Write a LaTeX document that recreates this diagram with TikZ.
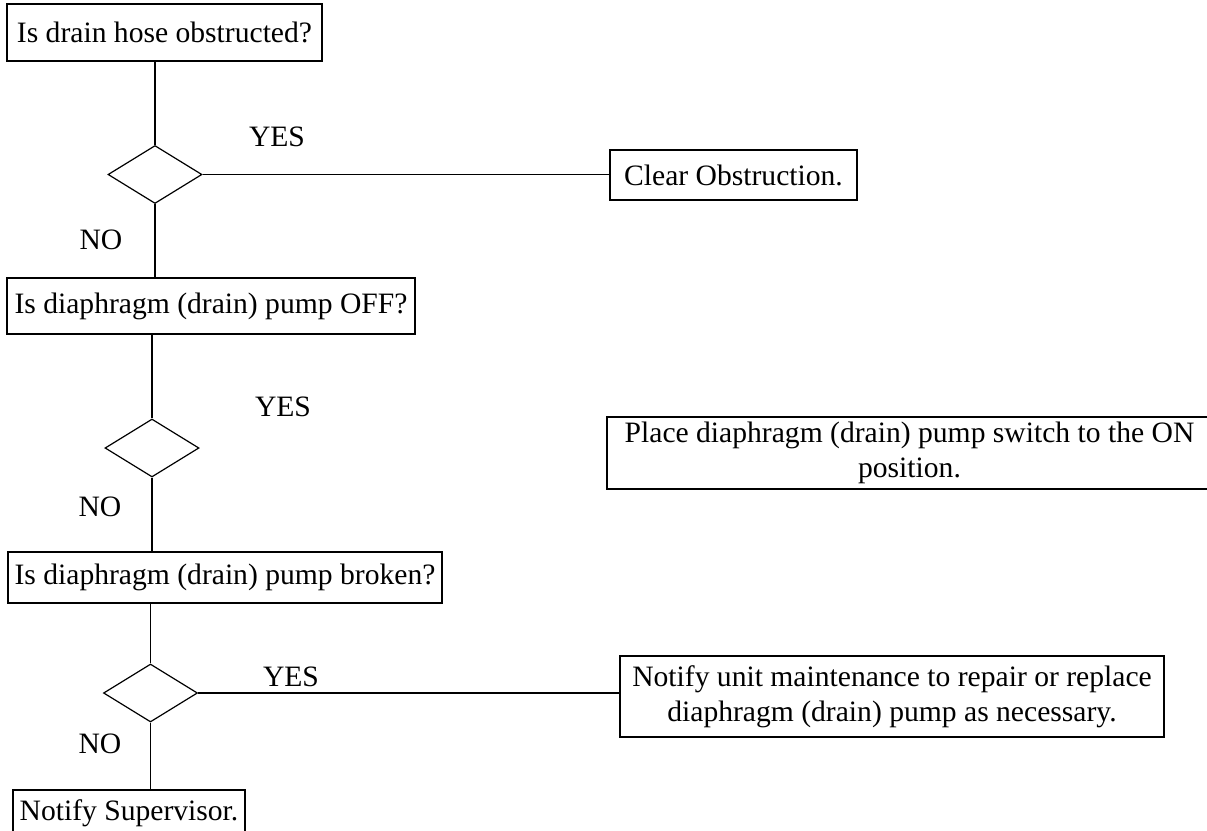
\documentclass[tikz,border=0pt]{standalone}
\usepackage{fontspec}
\setmainfont{Liberation Serif}
\usetikzlibrary{shapes,positioning,calc}
\tikzset{>=latex}
\tikzset{box/.style={draw,rectangle,inner sep=0pt},
  decision/.style={draw,diamond,inner sep=0pt,minimum width=47pt,minimum height=29pt},
  answer/.style={inner sep=0pt}}

\begin{document}
\begin{tikzpicture}[x=0.5pt,y=-0.5pt,line width=0.6pt,font=\fontsize{14.8}{17.5}\selectfont]
    \useasboundingbox (0,0) rectangle (1207,831);
    \node [box,minimum width=157.5pt,minimum height=28.5pt] (q1) at (164.5,32.5) {Is drain hose obstructed?};
    \node [decision] (d1) at (155,174.5) {};
    \node [box,minimum width=123.5pt,minimum height=25pt] (clear) at (733.5,175) {Clear Obstruction.};
    \node [box,minimum width=204pt,minimum height=28pt] (q2) at (211,306) {Is diaphragm (drain) pump OFF?};
    \node [decision] (d2) at (152,448) {};
    \node [box,minimum width=302.5pt,minimum height=36pt,align=center] (place) at (909.5,453) {Place diaphragm (drain) pump switch to the ON\\position.};
    \node [box,minimum width=217pt,minimum height=25.5pt] (q3) at (225,577.5) {Is diaphragm (drain) pump broken?};
    \node [decision] (d3) at (150.5,693) {};
    \node [box,minimum width=272pt,minimum height=40.5pt,align=center] (notify) at (892,696.5) {Notify unit maintenance to repair or replace\\diaphragm (drain) pump as necessary.};
    \node [box,minimum width=116pt,minimum height=23pt] (super) at (129,813) {Notify Supervisor.};

    \node [answer] (yes1) at (277,137) {YES};
    \node [answer] (no1) at (101,240) {NO};
    \node [answer] (yes2) at (283,407) {YES};
    \node [answer] (no2) at (100,507) {NO};
    \node [answer] (yes3) at (291,677) {YES};
    \node [answer] (no3) at (100,744) {NO};

    \draw (d1.north) -- (d1.north |- q1.south);
    \draw (d1.east) -- (d1.east -| clear.west);
    \draw (d1.south) -- (d1.south |- q2.north);
    \draw (d2.north) -- (d2.north |- q2.south);
    \draw (d2.south) -- (d2.south |- q3.north);
    \draw (d3.north) -- (d3.north |- q3.south);
    \draw (d3.east) -- (d3.east -| notify.west);
    \draw (d3.south) -- (d3.south |- super.north);
  \end{tikzpicture}
\end{document}
